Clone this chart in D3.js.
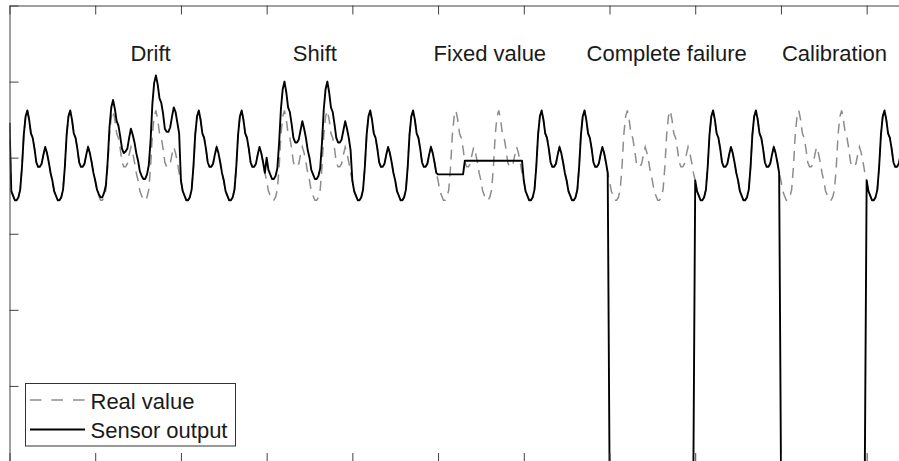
<!DOCTYPE html>
<html>
<head>
<meta charset="utf-8">
<script src="https://cdn.jsdelivr.net/npm/d3@7"></script>
<style>
  body { margin: 0; background: #fff; }
  svg { display: block; font-family: 'Liberation Sans', Arial, sans-serif; }
</style>
</head>
<body>
<svg id="svg" width="899" height="461"></svg>
<script>
// hourly readings, one row per day (21 days)
const realValue = [
  223, 178, 175, 172, 172, 174, 179, 194, 215, 227, 231, 225, 216, 213, 206, 197, 194, 194, 196, 202, 207, 203, 197, 190,
  185, 178, 175, 172, 172, 174, 179, 194, 215, 227, 231, 225, 216, 213, 206, 197, 194, 194, 196, 202, 207, 203, 197, 190,
  185, 178, 175, 172, 172, 174, 179, 194, 215, 227, 231, 225, 216, 213, 206, 197, 194, 194, 196, 202, 207, 203, 197, 190,
  185, 178, 175, 172, 172, 174, 179, 194, 215, 227, 231, 225, 216, 213, 206, 197, 194, 194, 196, 202, 207, 203, 197, 190,
  185, 178, 175, 172, 172, 174, 179, 194, 215, 227, 231, 225, 216, 213, 206, 197, 194, 194, 196, 202, 207, 203, 197, 190,
  185, 178, 175, 172, 172, 174, 179, 194, 215, 227, 231, 225, 216, 213, 206, 197, 194, 194, 196, 202, 207, 203, 197, 190,
  185, 178, 175, 172, 172, 174, 179, 194, 215, 227, 231, 225, 216, 213, 206, 197, 194, 194, 196, 202, 207, 203, 197, 190,
  185, 178, 175, 172, 172, 174, 179, 194, 215, 227, 231, 225, 216, 213, 206, 197, 194, 194, 196, 202, 207, 203, 197, 190,
  185, 178, 175, 172, 172, 174, 179, 194, 215, 227, 231, 225, 216, 213, 206, 197, 194, 194, 196, 202, 207, 203, 197, 190,
  185, 178, 175, 172, 172, 174, 179, 194, 215, 227, 231, 225, 216, 213, 206, 197, 194, 194, 196, 202, 207, 203, 197, 190,
  185, 178, 175, 172, 172, 174, 179, 194, 215, 227, 231, 225, 216, 213, 206, 197, 194, 194, 196, 202, 207, 203, 197, 190,
  185, 178, 175, 172, 172, 174, 179, 194, 215, 227, 231, 225, 216, 213, 206, 197, 194, 194, 196, 202, 207, 203, 197, 190,
  185, 178, 175, 172, 172, 174, 179, 194, 215, 227, 231, 225, 216, 213, 206, 197, 194, 194, 196, 202, 207, 203, 197, 190,
  185, 178, 175, 172, 172, 174, 179, 194, 215, 227, 231, 225, 216, 213, 206, 197, 194, 194, 196, 202, 207, 203, 197, 190,
  185, 178, 175, 172, 172, 174, 179, 194, 215, 227, 231, 225, 216, 213, 206, 197, 194, 194, 196, 202, 207, 203, 197, 190,
  185, 178, 175, 172, 172, 174, 179, 194, 215, 227, 231, 225, 216, 213, 206, 197, 194, 194, 196, 202, 207, 203, 197, 190,
  185, 178, 175, 172, 172, 174, 179, 194, 215, 227, 231, 225, 216, 213, 206, 197, 194, 194, 196, 202, 207, 203, 197, 190,
  185, 178, 175, 172, 172, 174, 179, 194, 215, 227, 231, 225, 216, 213, 206, 197, 194, 194, 196, 202, 207, 203, 197, 190,
  185, 178, 175, 172, 172, 174, 179, 194, 215, 227, 231, 225, 216, 213, 206, 197, 194, 194, 196, 202, 207, 203, 197, 190,
  185, 178, 175, 172, 172, 174, 179, 194, 215, 227, 231, 225, 216, 213, 206, 197, 194, 194, 196, 202, 207, 203, 197, 190,
  185, 178, 175, 172, 172, 174, 179, 194, 215, 227, 231, 225, 216, 213, 206, 197, 194, 194, 196, 202, 207, 203, 197, 190,
];

const sensorOutput = [
  223, 178, 175, 172, 172, 174, 179, 194, 215, 227, 231, 225, 216, 213, 206, 197, 194, 194, 196, 202, 207, 203, 197, 190,
  185, 178, 175, 172, 172, 174, 179, 194, 215, 227, 231, 225, 216, 213, 206, 197, 194, 194, 196, 202, 207, 203, 197, 190,
  185, 179, 176, 174, 174, 177, 182, 198, 220, 233, 238, 232, 224, 221, 214, 206, 203, 204, 206, 213, 219, 215, 210, 203,
  198, 191, 188, 186, 186, 189, 195, 211, 235, 249, 254, 248, 239, 236, 229, 219, 217, 217, 220, 227, 233, 230, 223, 216,
  185, 178, 175, 172, 172, 174, 179, 194, 215, 227, 231, 225, 216, 213, 206, 197, 194, 194, 196, 202, 207, 203, 197, 190,
  185, 178, 175, 172, 172, 174, 179, 194, 215, 227, 231, 225, 216, 213, 206, 197, 194, 194, 196, 202, 207, 203, 197, 190,
  200, 192, 189, 186, 186, 188, 193, 210, 232, 245, 250, 243, 233, 230, 222, 213, 210, 210, 212, 218, 224, 219, 213, 205,
  200, 192, 189, 186, 186, 188, 193, 210, 232, 245, 250, 243, 233, 230, 222, 213, 210, 210, 212, 218, 224, 219, 213, 205,
  185, 178, 175, 172, 172, 174, 179, 194, 215, 227, 231, 225, 216, 213, 206, 197, 194, 194, 196, 202, 207, 203, 197, 190,
  185, 178, 175, 172, 172, 174, 179, 194, 215, 227, 231, 225, 216, 213, 206, 197, 194, 194, 196, 202, 207, 203, 197, 190,
  189, 189, 189, 189, 189, 189, 189, 189, 189, 189, 189, 189, 189, 189, 189, 198, 198, 198, 198, 198, 198, 198, 198, 198,
  198, 198, 198, 198, 198, 198, 198, 198, 198, 198, 198, 198, 198, 198, 198, 198, 198, 198, 198, 198, 198, 198, 198, 198,
  185, 178, 175, 172, 172, 174, 179, 194, 215, 227, 231, 225, 216, 213, 206, 197, 194, 194, 196, 202, 207, 203, 197, 190,
  185, 178, 175, 172, 172, 174, 179, 194, 215, 227, 231, 225, 216, 213, 206, 197, 194, 194, 196, 202, 207, 203, 197, 190,
  0, 0, 0, 0, 0, 0, 0, 0, 0, 0, 0, 0, 0, 0, 0, 0, 0, 0, 0, 0, 0, 0, 0, 0,
  0, 0, 0, 0, 0, 0, 0, 0, 0, 0, 0, 0, 0, 0, 0, 0, 0, 0, 0, 0, 0, 0, 0, 0,
  185, 178, 175, 172, 172, 174, 179, 194, 215, 227, 231, 225, 216, 213, 206, 197, 194, 194, 196, 202, 207, 203, 197, 190,
  185, 178, 175, 172, 172, 174, 179, 194, 215, 227, 231, 225, 216, 213, 206, 197, 194, 194, 196, 202, 207, 203, 197, 190,
  0, 0, 0, 0, 0, 0, 0, 0, 0, 0, 0, 0, 0, 0, 0, 0, 0, 0, 0, 0, 0, 0, 0, 0,
  0, 0, 0, 0, 0, 0, 0, 0, 0, 0, 0, 0, 0, 0, 0, 0, 0, 0, 0, 0, 0, 0, 0, 0,
  185, 178, 175, 172, 172, 174, 179, 194, 215, 227, 231, 225, 216, 213, 206, 197, 194, 194, 196, 202, 207, 203, 197, 190,
];

const faultLabels = ['Drift', 'Shift', 'Fixed value', 'Complete failure', 'Calibration'];
const faultLabelHours = [79, 171, 269, 368, 462];
const faultLabelLevel = 263.5;

const xTicks = [0, 48, 96, 144, 192, 240, 288, 336, 384, 432, 480];
const yTicks = [0, 50, 100, 150, 200, 250, 300];
const legendLabels = ['Real value', 'Sensor output'];

const svg = d3.select('#svg');

const x = d3.scaleLinear().domain([0, 504]).range([9.5, 909.5]);
const y = d3.scaleLinear().domain([0, 300]).range([462, 5.5]);

svg.append('clipPath')
  .attr('id', 'plot-clip')
  .append('rect')
  .attr('x', x(0))
  .attr('y', y(300))
  .attr('width', x(504) - x(0))
  .attr('height', y(0) - y(300));

const line = d3.line()
  .x((d, i) => x(i))
  .y(d => y(d));

const lines = svg.append('g').attr('clip-path', 'url(#plot-clip)');

lines.append('path')
  .datum(realValue)
  .attr('d', line)
  .attr('fill', 'none')
  .attr('stroke', '#8c8c8c')
  .attr('stroke-width', 1.5)
  .attr('stroke-dasharray', '10,7');

lines.append('path')
  .datum(sensorOutput)
  .attr('d', line)
  .attr('fill', 'none')
  .attr('stroke', '#000')
  .attr('stroke-width', 1.9)
  .attr('stroke-linejoin', 'round');

// box axes, ticks pointing inward, no labels
const axisColor = '#404040';
const axes = [
  [d3.axisTop(x).tickValues(xTicks), `translate(0,${y(300)})`],
  [d3.axisBottom(x).tickValues(xTicks), `translate(0,${y(0)})`],
  [d3.axisLeft(y).tickValues(yTicks), `translate(${x(0)},0)`],
  [d3.axisRight(y).tickValues(yTicks), `translate(${x(504)},0)`],
];

axes.forEach(([axis, tr]) => {
  svg.append('g')
    .attr('transform', tr)
    .attr('color', axisColor)
    .call(axis.tickSize(-9).tickSizeOuter(0).tickFormat(''));
});

svg.selectAll('.fault-label')
  .data(faultLabels)
  .enter()
  .append('text')
  .attr('class', 'fault-label')
  .attr('x', (d, i) => x(faultLabelHours[i]))
  .attr('y', y(faultLabelLevel))
  .attr('text-anchor', 'middle')
  .attr('font-size', 22)
  .attr('fill', '#1a1a1a')
  .text(d => d);

// legend
const legend = svg.append('g');

legend.append('rect')
  .attr('x', 25.5)
  .attr('y', 383.5)
  .attr('width', 210)
  .attr('height', 62.5)
  .attr('fill', '#fff')
  .attr('stroke', '#333')
  .attr('stroke-width', 1);

const legendStyles = [
  { stroke: '#8c8c8c', width: 1.5, dash: '11.5,10' },
  { stroke: '#000', width: 1.9, dash: null },
];

legendLabels.forEach((label, i) => {
  const ly = 400 + i * 29.5;
  legend.append('line')
    .attr('x1', 30)
    .attr('x2', 85)
    .attr('y1', ly)
    .attr('y2', ly)
    .attr('stroke', legendStyles[i].stroke)
    .attr('stroke-width', legendStyles[i].width)
    .attr('stroke-dasharray', legendStyles[i].dash);
  legend.append('text')
    .attr('x', 90.5)
    .attr('y', ly + 8.5)
    .attr('font-size', 22)
    .attr('fill', '#1a1a1a')
    .text(label);
});
</script>
</body>
</html>
